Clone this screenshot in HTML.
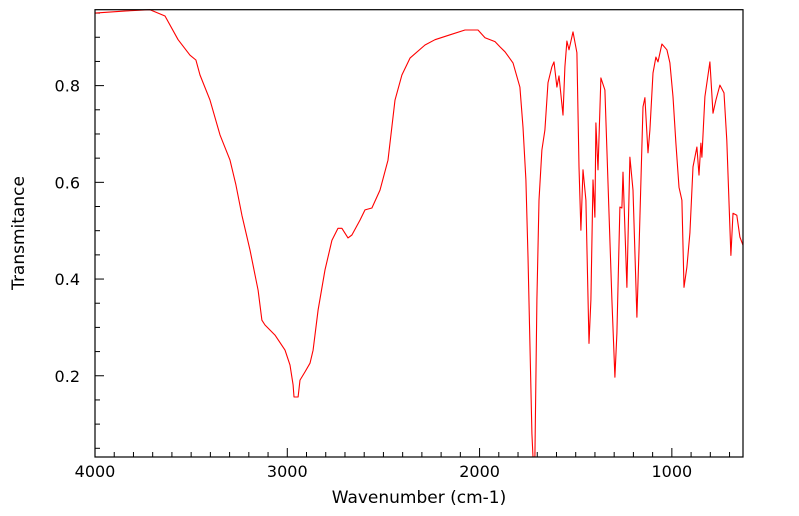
<!DOCTYPE html>
<html><head><meta charset="utf-8"><style>
html,body{margin:0;padding:0;background:#fff}
svg{display:block}
text{font-family:"DejaVu Sans","Liberation Sans",sans-serif;fill:#000}
</style></head><body>
<svg id="chart" width="799" height="516">
<rect x="0" y="0" width="799" height="516" fill="#fff"/>
<g id="ticks"></g>
<path id="line" fill="none" stroke="#ff0000" stroke-width="1.1" stroke-linejoin="round"/>
<rect x="95" y="9.7" width="648" height="447.3" fill="none" stroke="#000" stroke-width="1.2"/>
<g id="labels"></g>
<text x="419" y="503" font-size="17" text-anchor="middle">Wavenumber (cm-1)</text>
<text transform="translate(24,233) rotate(-90)" font-size="17" text-anchor="middle">Transmitance</text>
</svg>
<script>
const wavenumbers=[4000,3818,3714,3636,3568,3506,3475,3454,3402,3350,3298,3267,3236,3194,3152,3132,3116,3064,3012,2986,2970,2965,2944,2934,2908,2882,2866,2840,2804,2768,2736,2716,2684,2664,2622,2596,2560,2518,2476,2440,2404,2362,2284,2232,2154,2076,2008,1972,1920,1894,1868,1826,1790,1774,1759,1748,1728,1722,1712,1702,1691,1676,1660,1644,1624,1613,1598,1587,1566,1556,1546,1535,1514,1494,1483,1473,1462,1447,1431,1421,1410,1400,1395,1384,1369,1348,1338,1312,1296,1286,1270,1260,1254,1234,1218,1202,1182,1171,1150,1140,1124,1114,1098,1083,1072,1052,1026,1010,994,979,963,948,937,922,906,890,870,859,849,844,828,802,786,771,750,729,714,693,682,662,646,630];
const transmittance=[0.95,0.955,0.957,0.944,0.895,0.863,0.853,0.822,0.77,0.698,0.646,0.595,0.532,0.46,0.377,0.315,0.305,0.284,0.253,0.222,0.181,0.156,0.156,0.191,0.208,0.226,0.253,0.336,0.419,0.48,0.505,0.505,0.485,0.491,0.522,0.543,0.547,0.584,0.646,0.77,0.822,0.857,0.884,0.895,0.905,0.915,0.915,0.899,0.891,0.880,0.870,0.847,0.797,0.714,0.605,0.446,0.081,0.032,0.032,0.357,0.563,0.667,0.708,0.806,0.839,0.849,0.797,0.820,0.739,0.839,0.892,0.874,0.911,0.868,0.632,0.501,0.626,0.563,0.267,0.357,0.605,0.528,0.723,0.626,0.816,0.791,0.667,0.357,0.197,0.288,0.549,0.547,0.621,0.383,0.652,0.584,0.321,0.460,0.756,0.775,0.661,0.708,0.826,0.859,0.849,0.886,0.874,0.847,0.777,0.681,0.590,0.563,0.383,0.425,0.495,0.632,0.673,0.615,0.681,0.652,0.777,0.849,0.743,0.770,0.801,0.785,0.687,0.449,0.536,0.532,0.487,0.470];
const xTickLabels=[4000,3000,2000,1000];
const yTickLabels=[0.2,0.4,0.6,0.8];
const X0=95,X1=743,Y0=9.7,Y1=457,WMAX=4000,WMIN=630,TMAX=0.957,TMIN=0.032;
function xs(w){return X0+(WMAX-w)/(WMAX-WMIN)*(X1-X0);}
function ys(t){return Y1-(t-TMIN)/(TMAX-TMIN)*(Y1-Y0);}
const ns="http://www.w3.org/2000/svg";
let d="";
for(let i=0;i<wavenumbers.length;i++){d+=(i?"L":"M")+xs(wavenumbers[i]).toFixed(1)+","+ys(transmittance[i]).toFixed(1);}
document.getElementById("line").setAttribute("d",d);
const tg=document.getElementById("ticks"),lg=document.getElementById("labels");
function ln(x1,y1,x2,y2,name){const l=document.createElementNS(ns,"line");l.setAttribute("x1",x1);l.setAttribute("y1",y1);l.setAttribute("x2",x2);l.setAttribute("y2",y2);l.setAttribute("stroke","#000");l.setAttribute("stroke-width","1");


tg.appendChild(l);}
for(let w=4000;w>=WMIN;w-=100){const x=xs(w);const major=w%1000===0;ln(x,Y1,x,Y1-(major?9:5),"x-tick");}
for(let k=1;k*0.05<=TMAX;k++){const t=k*0.05;if(t<TMIN)continue;const y=ys(t);const major=k%4===0;ln(X0,y,X0+(major?9:5),y,"y-tick");}
xTickLabels.forEach(v=>{const t=document.createElementNS(ns,"text");t.setAttribute("x",xs(v));t.setAttribute("y",477);t.setAttribute("font-size","16");t.setAttribute("text-anchor","middle");t.textContent=v;


lg.appendChild(t);});
yTickLabels.forEach(v=>{const t=document.createElementNS(ns,"text");t.setAttribute("x",80);t.setAttribute("y",ys(v)+6);t.setAttribute("font-size","16");t.setAttribute("text-anchor","end");t.textContent=v.toFixed(1);


lg.appendChild(t);});
</script>
</body></html>
